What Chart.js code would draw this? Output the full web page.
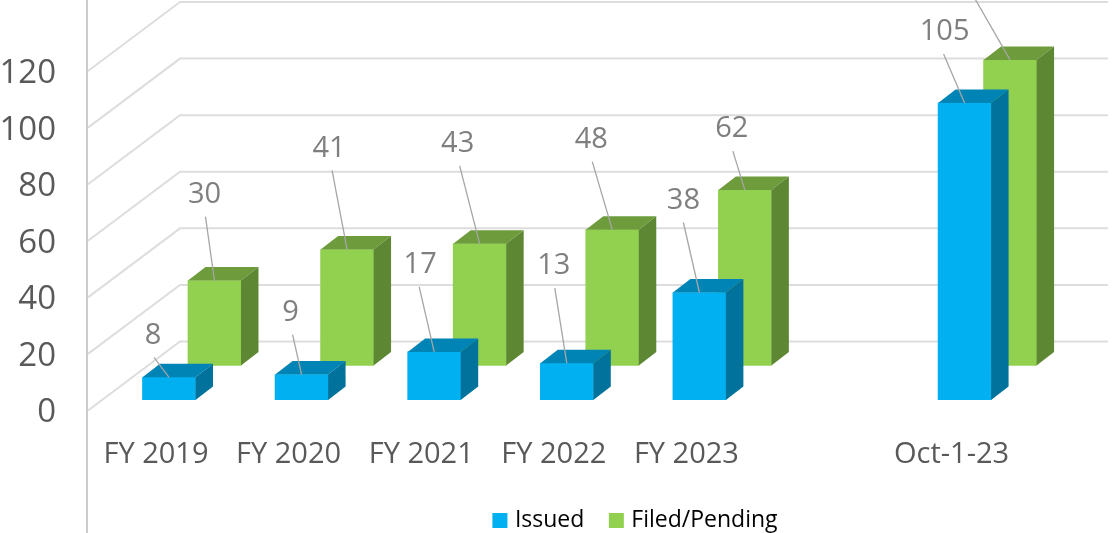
<!DOCTYPE html>
<html><head><meta charset="utf-8">
<style>html,body{margin:0;padding:0;background:#fff}canvas{display:block}</style>
<script src="https://cdn.jsdelivr.net/npm/chart.js@4"></script>
</head><body><canvas id="c" width="1112" height="533"></canvas>
<script>
const categories = ['FY 2019','FY 2020','FY 2021','FY 2022','FY 2023','','Oct-1-23'];
const issued = [8,9,17,13,38,null,105];
const filed = [30,41,43,48,62,null,108];
const yTicks = [0,20,40,60,80,100,120];

// label placement relative to the top of each bar
const issuedLabelDx = [-16,-11,-14,-13,-16,0,-20];
const issuedLabelDy = [-44,-64,-89,-99,-94,0,-73];
const issuedLeadDx  = [1,2,-1,1,0,0,-1];
const filedLabelDx  = [-10,-18,-22,-21,-13,0,-36];
const filedLabelDy  = [-88,-103,-102,-92,-63,0,-85];
const filedLeadDx   = [1,3,2,1,1,0,1];

const ISSUED_SHIFT = 0.098, FILED_SHIFT = 0.441;
const DEPTH_X = 17.5, DEPTH_Y = 13.5;
const WALL_X = 92, WALL_Y = 69, WALL_FRONT = 10.5, WALL_RIGHT = 1108;

const pts = (vals, shift) => vals.map((v,i)=>({x:i+shift,y:v}));
const noPad = s => { s.paddingTop=0; s.paddingBottom=0; s.paddingLeft=0; s.paddingRight=0; };

const threeD = {
  id:'threeD',
  beforeDatasetsDraw(chart){
    const {ctx,scales:{y},chartArea:a} = chart;
    ctx.save();
    ctx.strokeStyle='#DDDDDD'; ctx.lineWidth=2; ctx.lineJoin='miter';
    yTicks.forEach(t=>{
      const p=y.getPixelForValue(t)+WALL_FRONT;
      ctx.beginPath();ctx.moveTo(a.left,p);ctx.lineTo(a.left+WALL_X,p-WALL_Y);ctx.lineTo(WALL_RIGHT,p-WALL_Y);ctx.stroke();
    });
    ctx.strokeStyle='#CCCCCC';
    ctx.beginPath();ctx.moveTo(a.left-1,0);ctx.lineTo(a.left-1,chart.height);ctx.stroke();
    ctx.restore();
  },
  afterDatasetDraw(chart,args){
    const {ctx}=chart, ds=chart.data.datasets[args.index];
    ctx.save();
    args.meta.data.forEach((b,i)=>{
      if(ds.data[i].y==null) return;
      const l=b.x-b.width/2,r=b.x+b.width/2,t=b.y,bt=b.base;
      ctx.fillStyle=ds.topColor;
      ctx.beginPath();ctx.moveTo(l,t);ctx.lineTo(l+DEPTH_X,t-DEPTH_Y);ctx.lineTo(r+DEPTH_X,t-DEPTH_Y);ctx.lineTo(r,t);ctx.closePath();ctx.fill();
      ctx.fillStyle=ds.sideColor;
      ctx.beginPath();ctx.moveTo(r,t);ctx.lineTo(r+DEPTH_X,t-DEPTH_Y);ctx.lineTo(r+DEPTH_X,bt-DEPTH_Y);ctx.lineTo(r,bt);ctx.closePath();ctx.fill();
    });
    ctx.restore();
  },
  afterDatasetsDraw(chart){
    const {ctx}=chart;
    ctx.save();
    ctx.font='29px "Open Sans"';ctx.textAlign='center';ctx.textBaseline='middle';
    chart.data.datasets.forEach((ds,d)=>{
      chart.getDatasetMeta(d).data.forEach((b,i)=>{
        if(ds.data[i].y==null) return;
        const lx=b.x+ds.labelDx[i], ly=b.y+ds.labelDy[i];
        ctx.strokeStyle='#A6A6A6';ctx.lineWidth=1.3;
        ctx.beginPath();ctx.moveTo(lx+ds.leadDx[i],ly+24);ctx.lineTo(b.x,b.y);ctx.stroke();
        ctx.fillStyle='#7F7F7F';
        ctx.fillText(String(ds.data[i].y),lx,ly+2);
      });
    });
    ctx.restore();
  },
  afterLayout(chart){
    chart.legend.left+=81; chart.legend.right+=81;
    chart.legend.top+=9; chart.legend.bottom+=9;
  }
};

new Chart(document.getElementById('c'),{
  type:'bar',
  plugins:[threeD],
  data:{datasets:[
    {label:'Issued',data:pts(issued,ISSUED_SHIFT),backgroundColor:'#00B0F0',topColor:'#0084B5',sideColor:'#00729C',
     labelDx:issuedLabelDx,labelDy:issuedLabelDy,leadDx:issuedLeadDx,xAxisID:'x',yAxisID:'y',barThickness:53,grouped:false},
    {label:'Filed/Pending',data:pts(filed,FILED_SHIFT),backgroundColor:'#92D050',topColor:'#6E9C3C',sideColor:'#5E8734',
     labelDx:filedLabelDx,labelDy:filedLabelDy,leadDx:filedLeadDx,xAxisID:'x',yAxisID:'y2',barThickness:53,grouped:false}
  ]},
  options:{
    responsive:false,animation:false,
    layout:{padding:0},
    plugins:{
      tooltip:{enabled:false},
      legend:{position:'bottom',
        labels:{boxWidth:7,boxHeight:7,padding:28.5,color:'#111111',font:{family:'"Open Sans"',size:23},
          generateLabels(chart){return chart.data.datasets.map((ds,i)=>({text:ds.label,fillStyle:ds.backgroundColor,strokeStyle:ds.backgroundColor,lineWidth:8,datasetIndex:i,hidden:false}));}}
      }
    },
    scales:{
      x:{type:'linear',bounds:'data',offset:false,min:-0.5128,max:7.2097,
        grid:{display:false},border:{display:false},
        afterBuildTicks(s){s.ticks=categories.map((_,i)=>({value:i}));},
        afterFit(s){s.height=133-s.chart.legend.height;noPad(s);},
        ticks:{autoSkip:false,maxRotation:0,padding:29,color:'#595959',font:{family:'"Open Sans"',size:29},
          callback:v=>categories[v]}
      },
      y:{bounds:'data',min:0,max:141.4,
        grid:{display:false,drawTicks:false},border:{display:false},
        afterBuildTicks(s){s.ticks=yTicks.map(v=>({value:v}));},
        afterFit(s){s.width=88;noPad(s);},
        ticks:{padding:32,labelOffset:13,color:'#595959',font:{family:'"Open Sans"',size:33}}
      },
      y2:{display:false,bounds:'data',min:-12.21,max:129.19}
    }
  }
});
</script></body></html>
